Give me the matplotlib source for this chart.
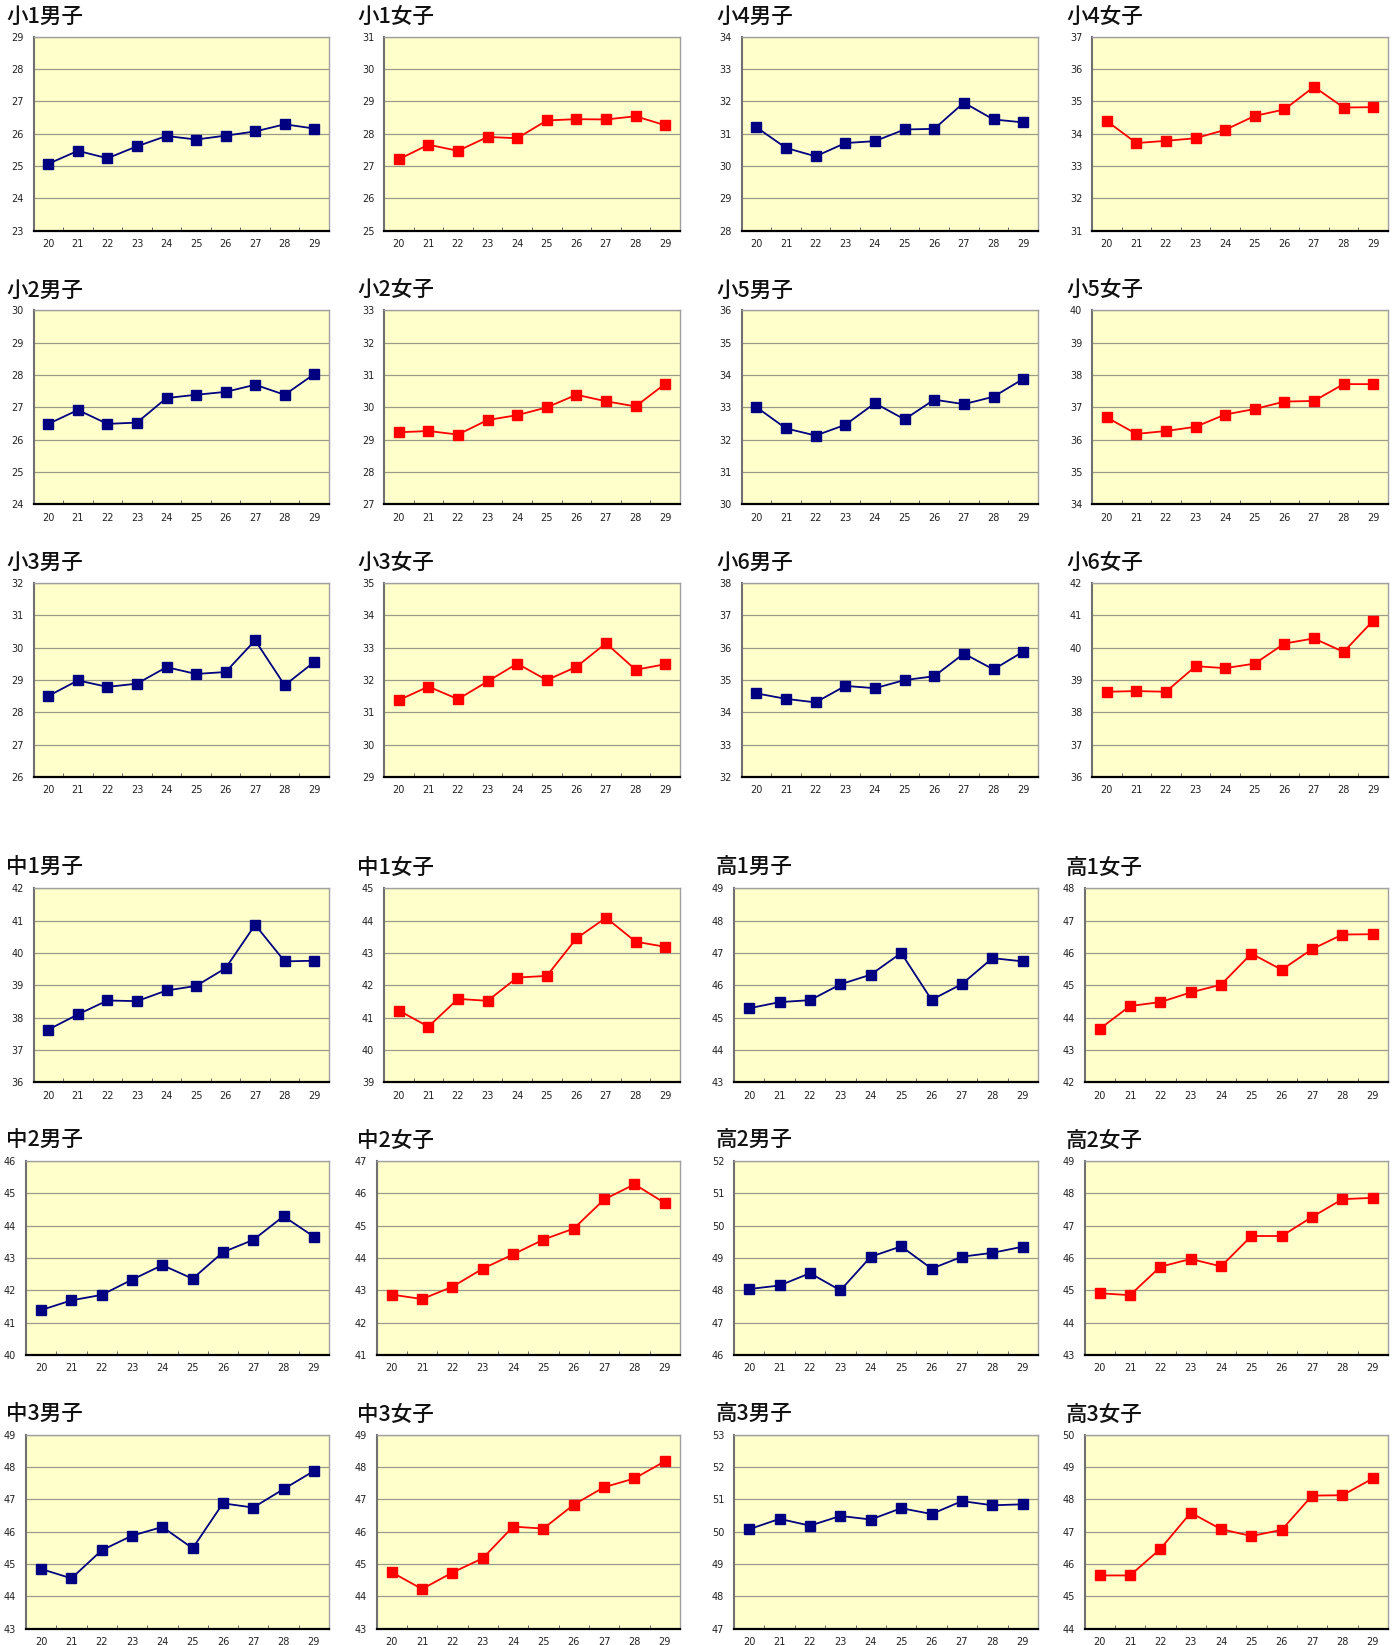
import matplotlib
matplotlib.use("Agg")
import matplotlib.pyplot as plt
from matplotlib.ticker import FixedLocator

plt.rcParams['font.family'] = ['Noto Sans CJK JP', 'DejaVu Sans']

years = ['20', '21', '22', '23', '24', '25', '26', '27', '28', '29']

# 小学校
sho1_boys = [25.07, 25.47, 25.24, 25.61, 25.93, 25.82, 25.94, 26.07, 26.29, 26.16]
sho1_girls = [27.21, 27.66, 27.47, 27.90, 27.86, 28.41, 28.45, 28.44, 28.54, 28.26]
sho2_boys = [26.49, 26.92, 26.49, 26.53, 27.29, 27.39, 27.48, 27.70, 27.39, 28.03]
sho2_girls = [29.23, 29.27, 29.16, 29.61, 29.76, 30.00, 30.39, 30.19, 30.03, 30.73]
sho3_boys = [28.51, 28.99, 28.79, 28.89, 29.40, 29.19, 29.25, 30.23, 28.84, 29.56]
sho3_girls = [31.38, 31.80, 31.41, 31.96, 32.51, 32.00, 32.41, 33.14, 32.32, 32.49]
sho4_boys = [31.20, 30.56, 30.30, 30.71, 30.77, 31.13, 31.15, 31.96, 31.44, 31.35]
sho4_girls = [34.39, 33.71, 33.78, 33.86, 34.12, 34.55, 34.75, 35.45, 34.81, 34.82]
sho5_boys = [33.01, 32.35, 32.13, 32.46, 33.13, 32.63, 33.24, 33.10, 33.33, 33.88]
sho5_girls = [36.69, 36.18, 36.27, 36.40, 36.78, 36.95, 37.18, 37.20, 37.72, 37.72]
sho6_boys = [34.59, 34.42, 34.31, 34.82, 34.75, 35.00, 35.12, 35.82, 35.33, 35.88]
sho6_girls = [38.64, 38.66, 38.64, 39.43, 39.37, 39.51, 40.13, 40.29, 39.87, 40.84]

# 中学校
chu1_boys = [37.63, 38.10, 38.53, 38.51, 38.84, 38.98, 39.53, 40.87, 39.74, 39.76]
chu1_girls = [41.22, 40.72, 41.58, 41.52, 42.24, 42.29, 43.45, 44.09, 43.35, 43.19]
chu2_boys = [41.39, 41.69, 41.86, 42.33, 42.78, 42.36, 43.18, 43.56, 44.29, 43.66]
chu2_girls = [42.87, 42.73, 43.11, 43.67, 44.11, 44.57, 44.91, 45.81, 46.28, 45.70]
chu3_boys = [44.85, 44.56, 45.43, 45.88, 46.15, 45.49, 46.88, 46.75, 47.32, 47.88]
chu3_girls = [44.75, 44.23, 44.74, 45.18, 46.16, 46.10, 46.84, 47.38, 47.65, 48.18]

# 高校
ko1_boys = [45.29, 45.48, 45.54, 46.03, 46.33, 47.00, 45.55, 46.04, 46.84, 46.74]
ko1_girls = [43.65, 44.36, 44.48, 44.78, 45.02, 45.98, 45.48, 46.12, 46.57, 46.58]
ko2_boys = [48.04, 48.15, 48.53, 48.00, 49.04, 49.36, 48.67, 49.04, 49.16, 49.35]
ko2_girls = [44.91, 44.85, 45.73, 45.97, 45.74, 46.68, 46.68, 47.27, 47.82, 47.86]
ko3_boys = [50.08, 50.40, 50.19, 50.49, 50.38, 50.73, 50.55, 50.95, 50.82, 50.85]
ko3_girls = [45.65, 45.65, 46.47, 47.59, 47.08, 46.87, 47.06, 48.12, 48.13, 48.65]

grid_titles = [
    ['小1男子', '小1女子', '小4男子', '小4女子'],
    ['小2男子', '小2女子', '小5男子', '小5女子'],
    ['小3男子', '小3女子', '小6男子', '小6女子'],
    ['中1男子', '中1女子', '高1男子', '高1女子'],
    ['中2男子', '中2女子', '高2男子', '高2女子'],
    ['中3男子', '中3女子', '高3男子', '高3女子'],
]
grid_values = [
    [sho1_boys, sho1_girls, sho4_boys, sho4_girls],
    [sho2_boys, sho2_girls, sho5_boys, sho5_girls],
    [sho3_boys, sho3_girls, sho6_boys, sho6_girls],
    [chu1_boys, chu1_girls, ko1_boys, ko1_girls],
    [chu2_boys, chu2_girls, ko2_boys, ko2_girls],
    [chu3_boys, chu3_girls, ko3_boys, ko3_girls],
]
# y axis lower limits (each axis spans 6 units)
grid_ymin = [
    [23, 25, 28, 31],
    [24, 27, 30, 34],
    [26, 29, 32, 36],
    [36, 39, 43, 42],
    [40, 41, 46, 43],
    [43, 43, 47, 44],
]

W, H = 1397, 1645
fig = plt.figure(figsize=(W / 100, H / 100), dpi=100)

# pixel layout
row_top = [36.7, 310.4, 583.1, 888.3, 1161.0, 1434.8]
row_h = 194.0
col_right = [329, 680, 1038, 1388]
col_left_upper = [33.6, 384, 741.5, 1092]
col_left_lower = [33.6, 384, 734, 1084.5]
col_left_bottom = [26, 376.5, 734, 1084.5]
title_x = [6, 357, 716, 1066]

navy = '#000080'
red = '#FF0000'

for r in range(6):
    if r < 3:
        lefts = col_left_upper
    elif r == 3:
        lefts = col_left_lower
    else:
        lefts = col_left_bottom
    for c in range(4):
        l, rgt = lefts[c], col_right[c]
        top = row_top[r]
        ax = fig.add_axes([l / W, 1 - (top + row_h) / H, (rgt - l) / W, row_h / H])
        ax.set_facecolor('#FFFFCC')
        vals = grid_values[r][c]
        ymin = grid_ymin[r][c]
        # boys in navy, girls in red
        color = navy if c % 2 == 0 else red
        x = list(range(len(years)))
        ax.plot(x, vals, color=color, lw=1.3, marker='s', ms=6.5,
                markeredgecolor=color, zorder=3)
        ax.set_xlim(-0.5, len(years) - 0.5)
        ax.set_ylim(ymin, ymin + 6)
        ax.set_yticks(range(ymin, ymin + 7))
        ax.yaxis.grid(True, color='#9A9A88', lw=0.9)
        ax.set_axisbelow(True)
        ax.set_xticks(x)
        ax.set_xticklabels(years)
        ax.xaxis.set_minor_locator(FixedLocator([i + 0.5 for i in range(len(years) - 1)]))
        ax.tick_params(axis='x', which='major', length=0, pad=6, labelsize=7)
        ax.tick_params(axis='x', which='minor', direction='in', length=3, color='#555555')
        ax.tick_params(axis='y', length=0, pad=7, labelsize=7)
        for lab in ax.get_xticklabels() + ax.get_yticklabels():
            lab.set_family(['Liberation Sans Narrow', 'DejaVu Sans'])
            lab.set_color('#222222')
        ax.spines['left'].set_color('#707070')
        ax.spines['left'].set_linewidth(1.5)
        ax.spines['bottom'].set_color('#000000')
        ax.spines['bottom'].set_linewidth(1.6)
        ax.spines['top'].set_color('#A0A0A0')
        ax.spines['right'].set_color('#A0A0A0')
        ax.spines['top'].set_linewidth(1.0)
        ax.spines['right'].set_linewidth(1.0)

        fig.text(title_x[c] / W, 1 - (top - 20) / H, grid_titles[r][c],
                 fontsize=15.5, fontweight='medium', ha='left', va='center',
                 color='#111111')

fig.savefig('out.png', dpi=100, facecolor='white')
